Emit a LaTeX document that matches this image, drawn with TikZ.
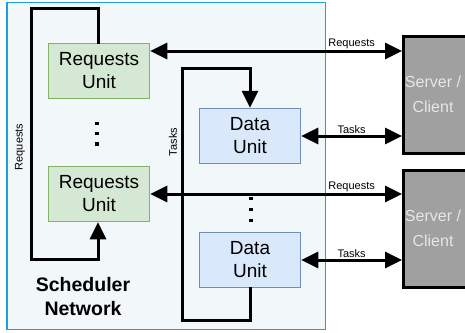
\documentclass[tikz,border=0pt]{standalone}
\usepackage{fontspec}
\setmainfont{Liberation Sans}
\usetikzlibrary{arrows.meta}
\definecolor{netfill}{HTML}{F2F7FA}
\definecolor{netline}{HTML}{1BA1E2}
\definecolor{reqfill}{HTML}{D5E8D4}
\definecolor{reqline}{HTML}{82B366}
\definecolor{datfill}{HTML}{DAE8FC}
\definecolor{datline}{HTML}{6C8EBF}
\definecolor{srvfill}{HTML}{A0A0A0}
\definecolor{srvtext}{HTML}{E6E6E6}
\tikzset{
  unitbox/.style={draw, line width=1.5pt, minimum width=101pt, minimum height=55pt,
    align=center, inner sep=0pt, font=\fontsize{19}{23}\selectfont},
  reqbox/.style={unitbox, fill=reqfill, draw=reqline},
  datbox/.style={unitbox, fill=datfill, draw=datline},
  srvbox/.style={draw=black, line width=3pt, fill=srvfill, minimum width=80pt,
    minimum height=117pt, inner sep=0pt},
  srvtxt/.style={align=center, inner sep=0pt, text=srvtext,
    font=\fontsize{16}{25}\selectfont},
  wire/.style={line width=3pt, line cap=rect},
  tip/.tip={Triangle[length=17pt,width=16pt]},
  small/.style={font=\fontsize{11}{13}\selectfont, inner sep=1pt},
  dot/.style={fill=black, inner sep=0pt, minimum size=3.5pt}
}
\begin{document}
\begin{tikzpicture}[x=1pt,y=-1pt]
\useasboundingbox (0,0) rectangle (465,332);
% scheduler network frame
\draw[netline, fill=netfill, line width=1.5pt] (7,2.5) rectangle (325.5,329.5);
\node[font=\fontsize{19.5}{24}\selectfont\bfseries, align=center] (sched) at (83,297) {Scheduler\\Network};

% requests units
\node[reqbox] (r1) at (99,71) {Requests\\Unit};
\node[reqbox] (r2) at (99,194) {Requests\\Unit};
\foreach \y [count=\i] in {123.5,133.5,144} \node[dot] (rdot\i) at (97,\y) {};

% data units
\node[datbox] (d1) at (250,136) {Data\\Unit};
\node[datbox] (d2) at (250,260) {Data\\Unit};
\foreach \y [count=\i] in {198.5,209.5,220.5} \node[dot] (ddot\i) at (251,\y) {};

% servers / clients (their right edge runs past the page)
\node[srvbox, anchor=north west] (s1) at (402,34.5) {};
\node[srvbox, anchor=north west] (s2) at (402,169) {};
\node[srvtxt] (s1t) at (433,94) {Server /\\Client};
\node[srvtxt] (s2t) at (433,228) {Server /\\Client};

% request loop on the left
\coordinate (rl1) at (31,8.5);
\coordinate (rl2) at (31,259.5);
\draw[wire, -{tip}] (r1.north -| 98,0) |- (rl1) -- (rl2) -| ([xshift=-1pt]r2.south);
\node[small, rotate=90] (reqlab) at (20,147) {Requests};

% task loop through the data units
\coordinate (tl1) at (182,68);
\coordinate (tl2) at (182,320);
\draw[wire, -{tip}] (d2.south) |- (tl2) -- (tl1) -| (d1.north);
\node[small, rotate=90] (tasklab) at (173,142) {Tasks};

% links to servers
\draw[wire, {tip}-{tip}] (r1.east |- 0,51) -- node[small, above, pos=0.8] {Requests} (s1.west |- 0,51);
\draw[wire, {tip}-{tip}] (r2.east) -- node[small, above, pos=0.8] {Requests} (s2.west |- r2.east);
\draw[wire, {tip}-{tip}] (d1.east) -- node[small, above, pos=0.5] {Tasks} (s1.west |- d1.east);
\draw[wire, {tip}-{tip}] (d2.east) -- node[small, above, pos=0.5] {Tasks} (s2.west |- d2.east);
\end{tikzpicture}
\end{document}
